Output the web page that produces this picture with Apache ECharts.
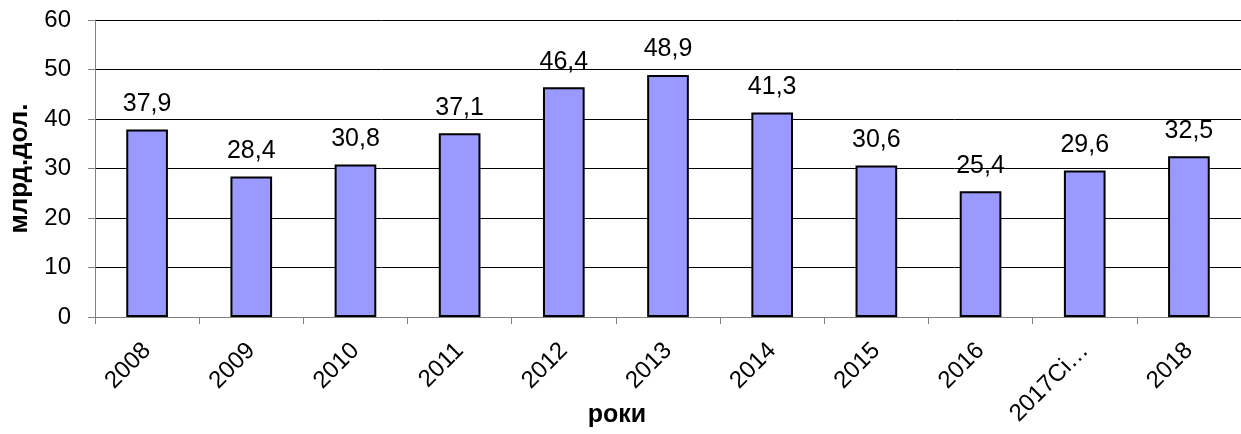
<!DOCTYPE html>
<html>
<head>
<meta charset="utf-8">
<script src="https://cdn.jsdelivr.net/npm/echarts@6/dist/echarts.min.js"></script>
<style>
html,body{margin:0;padding:0;background:#fff;}
#c{width:1241px;height:434px;}
</style>
</head>
<body>
<div id="c"></div>
<script>
const categories = ['2008','2009','2010','2011','2012','2013','2014','2015','2016','2017Сі…','2018'];
const values = [37.9, 28.4, 30.8, 37.1, 46.4, 48.9, 41.3, 30.6, 25.4, 29.6, 32.5];
const yTicks = [0, 10, 20, 30, 40, 50, 60];

const FONT = '"Liberation Sans", Arial, sans-serif';
const chart = echarts.init(document.getElementById('c'), null, {renderer: 'canvas'});
chart.setOption({
  animation: false,
  backgroundColor: '#fff',
  grid: {left: 95, right: 0, top: 20, bottom: 117, containLabel: false, outerBoundsMode: 'none'},
  xAxis: {
    type: 'category',
    data: categories,
    name: 'роки',
    nameLocation: 'middle',
    nameGap: 86,
    nameMoveOverlap: false,
    nameTextStyle: {fontFamily: FONT, fontSize: 25, fontWeight: 'bold', color: '#000', padding: [0, 102, 0, 0]},
    axisLine: {show: true, lineStyle: {color: '#808080', width: 1}},
    axisTick: {show: true, length: 7, interval: 0, alignWithLabel: false, lineStyle: {color: '#808080'}},
    axisLabel: {rotate: 45, interval: 0, margin: 30, fontFamily: FONT, fontSize: 24, color: '#000'},
    splitLine: {show: false}
  },
  yAxis: {
    type: 'value',
    min: yTicks[0],
    max: yTicks[yTicks.length - 1],
    interval: yTicks[1] - yTicks[0],
    name: 'млрд.дол.',
    nameLocation: 'middle',
    nameGap: 62,
    nameMoveOverlap: false,
    nameTextStyle: {fontFamily: FONT, fontSize: 26, fontWeight: 'bold', color: '#000'},
    axisLine: {show: true, lineStyle: {color: '#808080', width: 1}},
    axisTick: {show: true, length: 7, lineStyle: {color: '#808080'}},
    axisLabel: {margin: 24, fontFamily: FONT, fontSize: 24, color: '#000'},
    splitLine: {show: true, lineStyle: {color: '#000', width: 1}}
  },
  series: [{
    type: 'bar',
    data: values,
    barWidth: '40%',
    itemStyle: {color: '#9999FF', borderColor: '#000', borderWidth: 2},
    label: {
      show: true,
      position: 'top',
      distance: 13,
      fontFamily: FONT,
      fontSize: 25,
      color: '#000',
      formatter: p => String(p.value).replace('.', ',')
    }
  }]
});
</script>
</body>
</html>
